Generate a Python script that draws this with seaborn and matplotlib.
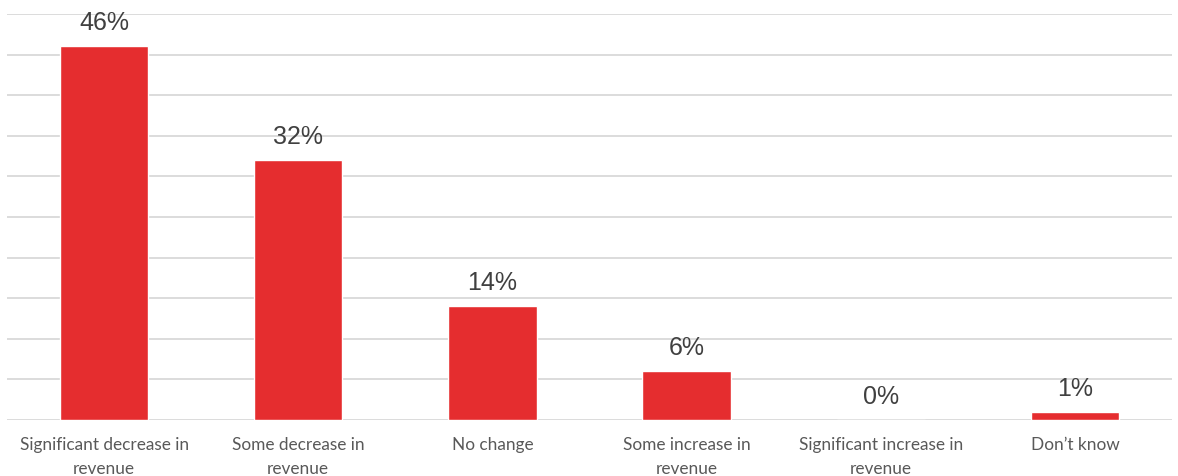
import matplotlib
matplotlib.use("Agg")
import matplotlib.pyplot as plt
import seaborn as sns
import pandas as pd

categories = [
    "Significant decrease in\nrevenue",
    "Some decrease in\nrevenue",
    "No change",
    "Some increase in\nrevenue",
    "Significant increase in\nrevenue",
    "Don\u2019t know",
]
values = [46, 32, 14, 6, 0, 1]

df = pd.DataFrame({"category": categories, "share": values})

sns.set_theme(style="white")
plt.rcParams["font.family"] = ["Liberation Sans", "DejaVu Sans"]

fig = plt.figure(figsize=(11.78, 4.76), dpi=100)
ax = fig.add_axes([7 / 1178, 1 - 420 / 476, 1165 / 1178, 406 / 476])

sns.barplot(data=df, x="category", y="share", color="#e52d2f",
            saturation=1, width=0.455, ax=ax, zorder=3)

ax.set_ylim(0, 50)
ax.set_xlim(-0.5, len(categories) - 0.5)
ax.set_yticks(range(0, 51, 5))
ax.yaxis.grid(True, color="#d9d9d9", linewidth=1.3, zorder=0)
ax.set_axisbelow(True)
ax.tick_params(axis="y", left=False, labelleft=False)
ax.tick_params(axis="x", bottom=False, pad=6)
for s in ax.spines.values():
    s.set_visible(False)
ax.set_xlabel("")
ax.set_ylabel("")

for lbl in ax.get_xticklabels():
    lbl.set_fontfamily(["Lato", "DejaVu Sans"])
    lbl.set_fontsize(12.4)
    lbl.set_color("#595959")
    lbl.set_linespacing(1.65)

for cont in ax.containers:
    ax.bar_label(cont, labels=[f"{v}%" for v in values], padding=8,
                 fontsize=18, color="#404040")

fig.savefig("out.png", dpi=100)
